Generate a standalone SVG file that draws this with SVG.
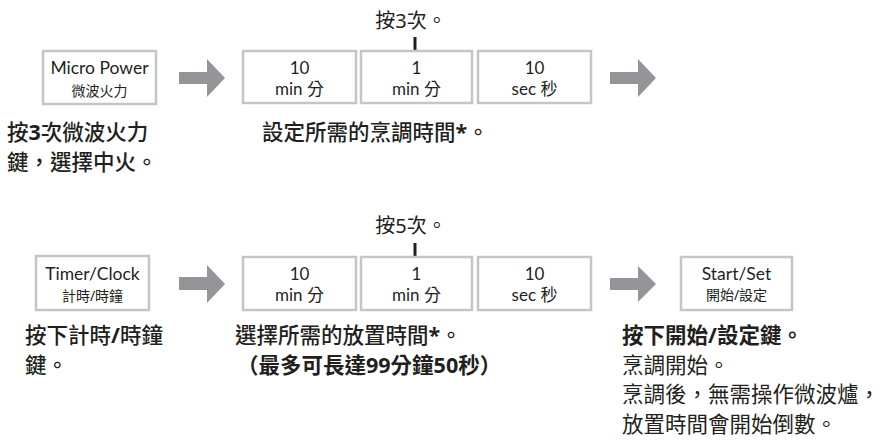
<svg xmlns="http://www.w3.org/2000/svg" width="885" height="442" viewBox="0 0 885 442">
<style>
.box{fill:#fff;stroke:#c4c5c7;stroke-width:2.5}
.arr{fill:#939598}
.tick{stroke:#231f20;stroke-width:3}
text{fill:#231f20;font-family:"Noto Sans","Noto Sans CJK TC",sans-serif}
.bt{font-family:Lato,"Noto Sans CJK TC",sans-serif;font-size:17.5px;text-anchor:middle}
.bs{font-size:14px;text-anchor:middle}
.tm{font-family:Lato,"Noto Sans CJK TC",sans-serif;font-size:17px;text-anchor:middle}
.cap{font-size:21.5px;font-weight:500}
.b{font-weight:bold}
.reg{font-size:21.5px;font-weight:400}
.note{font-size:20px;text-anchor:middle}
</style>
<rect width="885" height="442" fill="#fff"/>

<g id="micro-power">
<rect class="box" x="43" y="51" width="113" height="53"/>
<text class="bt" x="99.5" y="74">Micro Power</text>
<text class="bs" x="99.5" y="96">微波火力</text>
</g>
<g id="time-top">
<text class="note" x="411" y="28">按3次。</text>
<line class="tick" x1="415" y1="37" x2="415" y2="50"/>
<rect class="box" x="243" y="51" width="113" height="52"/>
<text class="tm" x="299.5" y="74">10</text>
<text class="tm" x="299.5" y="95">min 分</text>
<rect class="box" x="361" y="51" width="111" height="52"/>
<text class="tm" x="416.5" y="74">1</text>
<text class="tm" x="416.5" y="95">min 分</text>
<rect class="box" x="478" y="51" width="113" height="52"/>
<text class="tm" x="534.5" y="74">10</text>
<text class="tm" x="534.5" y="95">sec 秒</text>
</g>
<g id="timer-clock">
<rect class="box" x="36" y="256" width="113" height="54"/>
<text class="bt" x="92.5" y="280">Timer/Clock</text>
<text class="bs" x="92.5" y="301">計時/時鐘</text>
</g>
<g id="time-bottom">
<text class="note" x="411" y="233">按5次。</text>
<line class="tick" x1="415" y1="243" x2="415" y2="257"/>
<rect class="box" x="243" y="257" width="113" height="53"/>
<text class="tm" x="299.5" y="280">10</text>
<text class="tm" x="299.5" y="301">min 分</text>
<rect class="box" x="361" y="257" width="111" height="53"/>
<text class="tm" x="416.5" y="280">1</text>
<text class="tm" x="416.5" y="301">min 分</text>
<rect class="box" x="478" y="257" width="113" height="53"/>
<text class="tm" x="534.5" y="280">10</text>
<text class="tm" x="534.5" y="301">sec 秒</text>
</g>
<g id="start-set">
<rect class="box" x="681" y="257" width="111" height="53"/>
<text class="bt" x="736.5" y="280">Start/Set</text>
<text class="bs" x="736.5" y="300">開始/設定</text>
</g>

<g id="connectors">
<polygon class="arr" points="179,72 207,72 207,59 225,78 207,97 207,84 179,84"/>
<polygon class="arr" points="610,72 638,72 638,59 656,78 638,97 638,84 610,84"/>
<polygon class="arr" points="179,277 207,277 207,265 225,284 207,303 207,290 179,290"/>
<polygon class="arr" points="610,278 638,278 638,266 656,284 638,302 638,290 610,290"/>
</g>

<g id="captions">
<text class="cap" x="7" y="140">按<tspan class="b">3</tspan>次微波火力</text>
<text class="cap" x="7" y="170">鍵，選擇中火。</text>
<text class="cap" x="262" y="140">設定所需的烹調時間<tspan class="b">*</tspan>。</text>
<text class="cap" x="25" y="343">按下計時<tspan class="b">/</tspan>時鐘</text>
<text class="cap" x="25" y="373">鍵。</text>
<text class="cap" x="235" y="343">選擇所需的放置時間<tspan class="b">*</tspan>。</text>
<text class="cap b" x="237" y="373">（最多可長達99分鐘50秒）</text>
<text class="cap b" x="622" y="343">按下開始/設定鍵。</text>
<text class="reg" x="622" y="373">烹調開始。</text>
<text class="reg" x="622" y="402">烹調後，無需操作微波爐，</text>
<text class="reg" x="622" y="432">放置時間會開始倒數。</text>
</g>
</svg>
